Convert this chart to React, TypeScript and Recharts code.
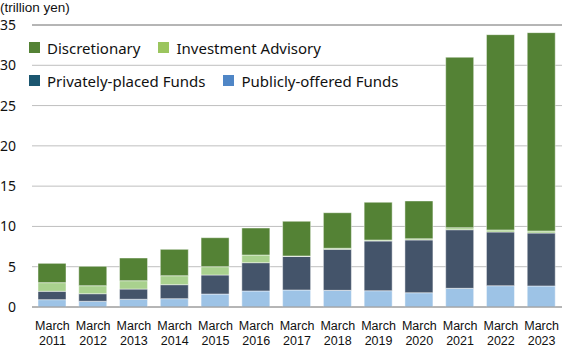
import React from "react";
import { BarChart, Bar, XAxis, YAxis, CartesianGrid, ReferenceLine } from "recharts";

const years = ["2011", "2012", "2013", "2014", "2015", "2016", "2017", "2018", "2019", "2020", "2021", "2022", "2023"];
const publicFunds = [0.91, 0.71, 0.96, 1.03, 1.61, 1.99, 2.11, 2.07, 2.02, 1.77, 2.32, 2.64, 2.61];
const privateFunds = [1.04, 0.94, 1.27, 1.74, 2.36, 3.51, 4.17, 5.09, 6.17, 6.55, 7.27, 6.67, 6.57];
const advisory = [1.07, 0.99, 1.03, 1.11, 1.03, 0.95, 0.05, 0.13, 0.12, 0.15, 0.25, 0.25, 0.25];
const discretionary = [2.4, 2.41, 2.82, 3.28, 3.6, 3.35, 4.31, 4.41, 4.69, 4.69, 21.16, 24.24, 24.62];
const yTicks = [0, 5, 10, 15, 20, 25, 30, 35];

const data = years.map((y, i) => ({
  year: y,
  pub: publicFunds[i],
  priv: privateFunds[i],
  adv: advisory[i],
  disc: discretionary[i],
}));

const FONT = "'Noto Sans', sans-serif";
const XFONT = "'Liberation Sans', Arial, sans-serif";

const legendRows = [
  [
    { label: "Discretionary", color: "#548235" },
    { label: "Investment Advisory", color: "#9BC55E" },
  ],
  [
    { label: "Privately-placed Funds", color: "#1B5670" },
    { label: "Publicly-offered Funds", color: "#4F86C6" },
  ],
];

const XTick = (props: any) => {
  const { x, y, payload } = props;
  return (
    <g transform={`translate(${x},${y})`}>
      <text x={0} y={0} dy={15} textAnchor="middle" fontFamily={XFONT} fontSize={12.5} fill="#111">March</text>
      <text x={0} y={0} dy={30} textAnchor="middle" fontFamily={XFONT} fontSize={12.5} fill="#111">{payload.value}</text>
    </g>
  );
};

export default function App() {
  return (
    <div style={{ position: "absolute", left: 0, top: 0, width: 568, height: 352, background: "#fff" }}>
      <BarChart width={568} height={352} data={data} margin={{ top: 25, right: 6, left: 0, bottom: 0 }}>
        <CartesianGrid vertical={false} stroke="#BFBFBF" />
        <ReferenceLine y={35} stroke="#8C8C8C" />
        <XAxis
          dataKey="year"
          height={45}
          tickLine={false}
          axisLine={{ stroke: "#8C8C8C" }}
          tick={<XTick />}
          interval={0}
        />
        <YAxis
          width={32}
          domain={[0, 35]}
          ticks={yTicks}
          tickLine={false}
          axisLine={false}
          tickSize={0}
          tickMargin={16}
          tick={{ fontFamily: FONT, fontSize: 14, fill: "#111" }}
          interval={0}
        />
        <Bar dataKey="pub" stackId="a" fill="#9DC3E6" barSize={28} isAnimationActive={false} stroke="#ffffff" strokeOpacity={0.45} strokeWidth={1} />
        <Bar dataKey="priv" stackId="a" fill="#44546A" barSize={28} isAnimationActive={false} stroke="#ffffff" strokeOpacity={0.45} strokeWidth={1} />
        <Bar dataKey="adv" stackId="a" fill="#A9D18E" barSize={28} isAnimationActive={false} stroke="#ffffff" strokeOpacity={0.45} strokeWidth={1} />
        <Bar dataKey="disc" stackId="a" fill="#548235" barSize={28} isAnimationActive={false} stroke="#ffffff" strokeOpacity={0.45} strokeWidth={1} />
      </BarChart>
      <div style={{ position: "absolute", left: 0, top: 0, fontFamily: XFONT, fontSize: 13.5, color: "#111", lineHeight: "16px" }}>
        (trillion yen)
      </div>
      <div style={{ position: "absolute", left: 29, top: 31, fontFamily: FONT, fontSize: 15, color: "#111" }}>
        {legendRows.map((row, r) => (
          <div key={r} style={{ display: "flex", alignItems: "center", height: 33 }}>
            {row.map((it) => (
              <div key={it.label} style={{ display: "flex", alignItems: "center", marginRight: 18 }}>
                <span style={{ width: 11, height: 11, background: it.color, display: "inline-block", marginRight: 7 }} />
                <span>{it.label}</span>
              </div>
            ))}
          </div>
        ))}
      </div>
    </div>
  );
}
